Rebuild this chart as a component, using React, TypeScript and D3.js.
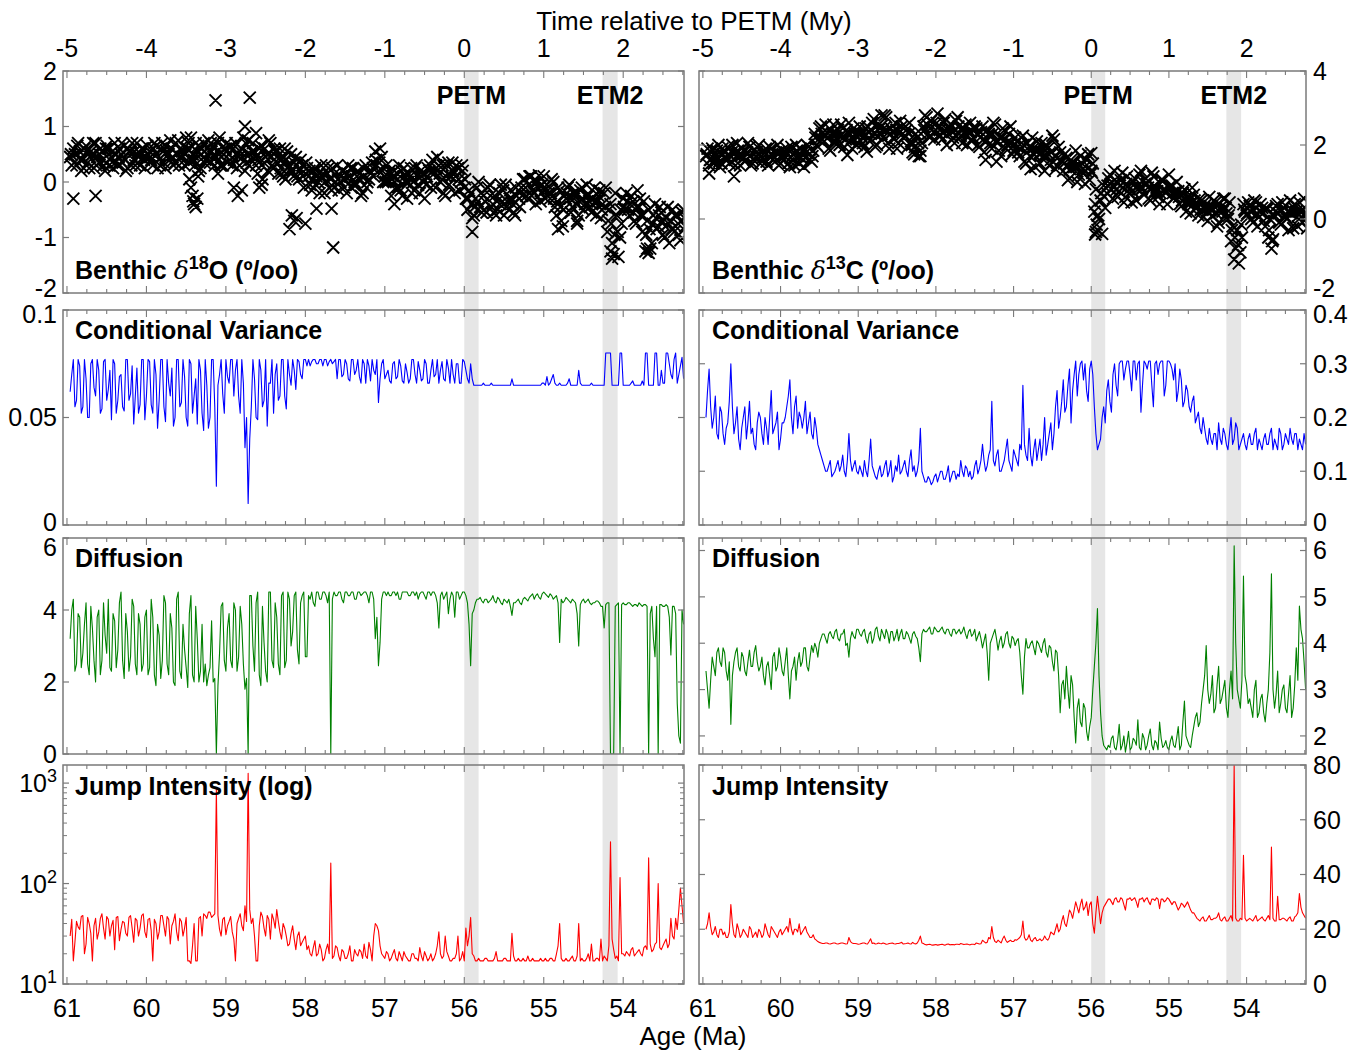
import React from "react";
import * as d3 from "d3";

// ---------- sampling grid (Age, Ma) ----------
const AGE0 = 60.96;
const STEP = 0.04;

// ---------- Benthic d18O (three interleaved sample sets + outliers) ----------
const d18O_A = [
  0.45,0.6,0.3,0.55,0.4,0.65,0.25,0.5,0.7,0.35,0.55,0.2,0.6,0.45,0.7,0.3,0.5,0.65,0.25,0.55,0.4,0.7,0.3,0.6,0.45,
  0.55,0.3,0.65,0.4,0.7,0.25,0.5,0.6,0.35,0.75,0.45,0.3,0.6,0.8,0.4,0.55,0.25,0.7,0.5,0.35,0.65,0.45,0.8,0.3,0.6,
  0.5,0.3,0.7,0.45,0.6,0.2,0.75,0.4,0.55,0.15,0.65,0.35,0.5,0.7,0.25,0.45,0.6,0.1,0.4,0.3,0.2,0.45,0.05,0.3,0.15,
  0.1,-0.15,0.25,0.0,0.3,-0.2,0.15,0.05,-0.1,0.3,0.0,0.2,-0.2,0.1,0.25,-0.05,0.15,-0.2,0.3,0.05,0.35,0.55,0.2,0.45,0.1,
  0.0,-0.25,0.2,0.05,-0.15,0.25,-0.3,0.1,0.0,0.3,-0.2,0.15,-0.05,0.2,0.4,-0.1,0.3,0.05,-0.25,0.35,0.1,-0.2,0.25,0.0,-0.1,
  -0.5,-0.2,-0.6,-0.1,-0.45,-0.25,-0.55,-0.05,-0.4,-0.6,-0.2,-0.35,-0.05,-0.5,-0.3,-0.6,-0.15,-0.1,0.05,-0.3,0.1,-0.2,0.0,-0.35,0.1,
  -0.05,-0.3,0.0,-0.6,-0.15,-0.8,-0.3,-0.05,-0.45,-0.2,-0.6,-0.1,-0.4,-0.25,-0.55,-0.1,-0.35,-0.65,-0.2,-0.9,-0.4,-1.3,-0.6,-1.0,-0.3,
  -0.2,-0.6,-0.35,-0.75,-0.45,-0.9,-1.25,-0.5,-1.1,-0.4,-0.8,-0.55,-1.0,-0.45,-0.7,-0.9,-0.6,-1.05,-0.5,
];
const d18O_B = [
  0.3,0.5,0.7,0.2,0.6,0.35,0.55,0.25,0.45,0.6,0.3,0.65,0.4,0.25,0.5,0.6,0.35,0.2,0.55,0.7,0.3,0.45,0.6,0.25,0.5,
  0.4,0.7,0.25,0.6,0.35,0.55,0.75,0.3,0.5,0.45,0.65,0.8,0.35,0.5,0.7,0.2,0.6,0.4,0.75,0.55,0.3,0.7,0.45,0.6,0.35,
  0.65,0.4,0.25,0.55,0.8,0.35,0.5,0.7,0.3,0.6,0.05,0.45,0.75,0.3,0.55,0.15,0.4,0.6,0.25,0.5,0.35,0.1,0.4,-0.1,0.25,
  -0.05,0.2,0.1,-0.2,0.15,0.3,-0.1,0.25,0.0,-0.15,0.2,0.05,0.3,-0.1,0.0,0.2,-0.25,0.1,0.0,0.15,0.1,0.3,0.6,0.0,0.3,
  0.2,0.1,-0.1,0.3,-0.25,0.0,0.15,-0.2,0.25,-0.05,0.1,-0.3,0.25,-0.1,0.15,0.45,0.0,-0.2,0.3,0.1,0.2,0.3,-0.15,0.2,-0.3,
  -0.15,-0.65,-0.3,0.0,-0.55,-0.35,-0.1,-0.45,-0.25,-0.5,-0.05,-0.6,-0.35,-0.15,-0.55,-0.25,-0.45,0.05,-0.25,0.1,-0.15,-0.4,0.12,-0.05,-0.3,
  -0.2,0.05,-0.45,-0.1,-0.7,-0.25,-0.1,-0.55,-0.3,-0.7,-0.15,-0.5,-0.05,-0.45,-0.3,-0.6,-0.15,-0.4,-0.1,-0.5,-1.1,-0.2,-1.35,-0.75,-0.5,
  -0.5,-0.25,-0.7,-0.15,-0.6,-0.35,-0.7,-1.2,-0.6,-0.85,-0.45,-0.95,-0.65,-1.1,-0.5,-0.8,-0.95,-0.55,-0.8,
];
const d18O_C = [
  0.5,0.35,0.65,0.4,0.25,0.55,0.45,0.7,0.3,0.5,0.4,0.6,0.3,0.55,0.35,0.45,0.7,0.4,0.6,0.3,0.55,0.35,0.5,0.4,0.65,
  0.45,0.6,0.5,0.3,0.55,0.65,0.4,0.45,0.7,0.3,0.55,0.5,0.7,0.4,0.3,0.65,0.5,0.35,0.6,0.7,0.45,0.55,0.3,0.5,0.7,
  0.4,0.6,0.5,0.3,0.45,0.7,0.3,0.55,0.45,0.4,0.3,0.6,0.2,0.45,0.6,0.35,0.25,0.45,0.55,0.2,0.1,0.3,0.2,0.1,0.35,
  0.2,0.05,-0.05,0.15,0.1,0.0,0.25,-0.15,0.15,0.05,0.1,-0.1,0.15,0.25,-0.05,0.1,0.05,0.25,-0.1,0.2,0.25,0.4,0.35,0.2,0.0,
  0.15,0.05,0.1,-0.1,0.2,0.1,0.0,0.25,-0.15,0.1,0.2,0.0,0.1,0.3,0.2,0.25,0.15,0.3,0.1,-0.05,0.35,0.1,0.05,0.3,0.05,
  -0.3,-0.4,-0.45,-0.35,-0.2,-0.5,-0.3,-0.25,-0.55,-0.35,-0.4,-0.15,-0.45,-0.3,-0.4,-0.1,-0.3,-0.25,-0.1,-0.05,-0.25,0.0,-0.1,-0.2,-0.15,
  -0.15,-0.2,-0.3,-0.35,-0.45,-0.5,-0.2,-0.3,-0.2,-0.4,-0.35,-0.3,-0.25,-0.35,-0.4,-0.35,-0.25,-0.5,-0.45,-0.7,-0.75,-0.95,-0.9,-0.5,-0.45,
  -0.35,-0.4,-0.55,-0.45,-0.3,-0.6,-0.95,-0.85,-0.75,-0.65,-0.6,-0.7,-0.8,-0.75,-0.85,-0.6,-0.75,-0.7,-0.65,
];
const d18O_outAge = [60.92,60.64,59.46,59.44,59.42,59.4,59.38,59.36,59.41,59.35,59.13,59.1,58.9,58.85,58.8,58.76,58.7,58.62,58.58,58.55,58.3,58.25,58.2,58.17,58.14,58.11,58.0,57.86,57.67,57.65,56.88,55.9,54.82,54.58,54.16,54.14,53.7,53.68];
const d18O_outVal = [-0.3,-0.25,0.05,-0.1,-0.25,-0.4,-0.45,-0.3,-0.35,0.1,1.47,0.15,-0.1,-0.25,-0.15,1.0,1.52,0.88,-0.1,-0.05,0.15,0.05,-0.85,-0.6,-0.7,-0.65,-0.75,-0.48,-0.48,-1.18,-0.4,-0.9,-0.85,-0.75,-1.25,-1.38,-1.2,-1.28];

// ---------- Benthic d13C ----------
const d13C_A = [
  1.7,1.45,1.9,1.6,2.0,1.5,1.8,1.95,1.55,1.75,2.05,1.45,1.85,1.6,1.95,1.5,1.7,2.0,1.55,1.8,1.45,1.9,1.65,2.0,1.5,
  1.6,1.9,1.4,1.75,2.0,1.5,1.85,1.65,1.95,1.55,2.3,1.95,2.5,2.1,2.35,1.85,2.55,2.2,2.0,2.45,2.15,2.6,1.9,2.3,2.05,
  2.3,1.95,2.5,2.15,2.7,2.0,2.45,2.2,2.75,1.9,2.35,2.6,2.05,2.5,2.25,1.95,2.1,1.75,2.2,1.85,2.5,2.75,2.2,2.6,2.4,
  2.5,2.15,2.7,2.3,2.55,2.05,2.75,2.25,2.45,2.0,2.6,2.2,2.45,1.95,2.5,1.6,2.3,1.9,2.55,2.1,1.7,2.4,2.0,2.5,1.85,
  2.1,1.7,2.25,1.5,1.95,2.2,1.4,1.85,2.05,1.3,1.9,1.6,2.15,1.45,1.8,1.3,1.65,1.1,1.55,1.85,1.2,1.5,0.95,1.75,1.3,
  0.2,-0.3,0.5,0.9,0.7,1.2,0.55,1.0,0.75,1.25,0.6,0.9,0.45,1.1,0.8,1.3,0.65,0.95,0.5,1.15,0.85,0.4,1.05,0.7,1.2,
  0.9,0.6,0.75,0.35,0.8,0.45,0.15,0.65,0.3,0.55,0.05,0.4,0.6,0.1,0.45,-0.1,0.35,0.55,0.0,-0.6,-1.1,-0.3,-0.9,0.4,0.1,
  0.35,-0.1,0.45,0.05,0.3,-0.2,-0.5,-0.8,0.1,0.4,-0.15,0.3,0.0,0.5,-0.25,0.2,0.45,-0.1,0.15,
];
const d13C_B = [
  1.9,1.6,1.5,1.85,1.4,1.75,1.6,1.5,2.0,1.45,1.7,1.9,1.55,2.05,1.45,1.85,1.95,1.5,1.75,1.55,1.95,1.6,1.8,1.45,1.85,
  1.8,1.5,1.95,1.45,1.7,1.9,1.4,2.0,1.6,1.85,2.0,2.45,2.15,2.55,1.9,2.3,2.05,2.4,2.55,1.95,2.35,2.1,2.45,2.0,2.5,
  2.05,2.45,2.2,2.6,1.95,2.55,2.3,2.8,2.05,2.45,2.15,1.9,2.65,2.2,2.4,2.6,1.8,2.3,1.7,2.05,2.8,2.3,2.65,2.15,2.85,
  2.25,2.6,2.0,2.45,2.2,2.65,2.3,2.05,2.55,2.35,2.1,2.5,2.0,2.35,1.8,2.4,2.05,2.6,1.55,2.2,2.45,1.9,2.3,1.75,2.2,
  1.8,2.2,1.55,2.05,1.35,1.75,2.1,1.5,1.7,2.0,1.45,2.25,1.35,1.95,1.55,1.75,1.05,1.6,1.4,1.0,1.7,1.25,1.6,1.05,1.5,
  0.8,0.0,-0.4,0.3,1.1,0.8,1.3,0.6,1.05,0.45,1.15,0.7,1.0,0.5,1.2,0.85,1.1,0.55,1.25,0.75,0.6,1.05,0.8,0.4,0.9,
  0.55,1.0,0.4,0.7,0.2,0.6,0.85,0.3,0.1,0.5,0.35,-0.05,0.25,0.5,-0.2,0.3,0.55,0.15,0.45,-0.2,-0.8,-1.2,-0.5,0.2,0.45,
  0.0,0.5,-0.2,0.4,-0.05,0.25,0.0,-0.55,0.35,-0.1,0.45,0.05,-0.3,0.25,0.4,-0.2,0.05,0.55,-0.25,
];
const d13C_C = [
  1.75,1.6,1.85,1.7,1.55,1.9,1.65,1.75,1.8,1.6,1.85,1.7,1.65,1.8,1.7,1.6,1.8,1.75,1.65,1.9,1.7,1.75,1.55,1.8,1.65,
  1.7,1.75,1.65,1.6,1.85,1.7,1.6,1.8,1.75,1.7,2.2,2.15,2.3,2.25,2.2,2.4,2.1,2.3,2.25,2.2,2.4,2.3,2.15,2.25,2.3,
  2.2,2.25,2.35,2.4,2.3,2.25,2.5,2.45,2.4,2.3,2.2,2.4,2.35,2.3,2.5,2.3,2.0,1.95,2.05,2.3,2.4,2.55,2.45,2.35,2.6,
  2.4,2.35,2.45,2.5,2.35,2.4,2.5,2.45,2.3,2.25,2.35,2.45,2.3,2.2,2.15,2.1,2.25,2.3,2.1,1.85,2.2,2.15,2.1,2.05,2.0,
  1.95,1.9,2.0,1.8,1.7,1.9,1.85,1.75,1.8,1.7,1.75,1.8,1.7,1.65,1.6,1.5,1.45,1.35,1.5,1.4,1.45,1.35,1.3,1.4,1.25,
  0.4,0.1,0.7,0.6,0.9,0.95,0.85,0.8,0.9,0.85,0.95,0.8,0.75,0.85,0.9,0.8,0.95,0.85,0.8,0.9,0.75,0.7,0.8,0.75,0.85,
  0.7,0.75,0.6,0.5,0.55,0.4,0.45,0.5,0.35,0.25,0.3,0.2,0.35,0.25,0.15,0.2,0.2,0.3,0.1,-0.3,-0.5,-0.7,-0.15,0.25,0.15,
  0.2,0.25,0.1,0.2,0.15,0.3,-0.3,-0.6,0.2,0.15,0.25,0.1,0.2,0.15,0.3,0.05,0.2,0.25,0.1,
];
const d13C_outAge = [60.92,60.6,59.14,58.89,58.7,58.2,56.0,55.95,55.94,55.93,55.92];
const d13C_outVal = [1.23,1.15,1.73,1.82,2.8,1.7,1.78,-0.42,-0.35,-0.15,0.1];

// ---------- Conditional variance (values on grid, and at half-steps) ----------
const cvO = [
  0.062,0.077,0.058,0.074,0.055,0.068,0.05,0.077,0.06,0.072,0.054,0.077,0.063,0.049,0.075,0.058,0.07,0.053,0.077,0.061,0.047,0.073,0.056,0.077,0.06,
  0.076,0.052,0.07,0.058,0.077,0.048,0.066,0.073,0.05,0.077,0.057,0.069,0.046,0.075,0.06,0.047,0.072,0.044,0.065,0.05,0.077,0.018,0.07,0.061,0.077,
  0.066,0.077,0.072,0.06,0.077,0.036,0.01,0.055,0.068,0.049,0.072,0.058,0.046,0.066,0.052,0.075,0.06,0.077,0.054,0.07,0.077,0.063,0.076,0.068,0.077,
  0.077,0.076,0.077,0.075,0.077,0.077,0.074,0.077,0.076,0.068,0.077,0.07,0.075,0.067,0.077,0.072,0.069,0.077,0.066,0.074,0.077,0.07,0.057,0.075,0.068,
  0.072,0.066,0.076,0.069,0.074,0.066,0.071,0.068,0.077,0.066,0.072,0.068,0.075,0.066,0.077,0.07,0.066,0.076,0.067,0.073,0.077,0.066,0.075,0.066,0.076,
  0.068,0.075,0.065,0.065,0.065,0.066,0.065,0.065,0.065,0.065,0.065,0.065,0.065,0.065,0.068,0.065,0.065,0.065,0.065,0.065,0.065,0.065,0.065,0.065,0.066,
  0.069,0.066,0.07,0.065,0.066,0.065,0.065,0.068,0.065,0.065,0.072,0.065,0.065,0.065,0.066,0.065,0.065,0.065,0.065,0.08,0.08,0.065,0.065,0.08,0.065,
  0.065,0.065,0.067,0.065,0.065,0.067,0.08,0.065,0.065,0.08,0.065,0.072,0.066,0.08,0.07,0.077,0.066,0.074,0.068,
];
const cvOmid = [
  0.07,0.055,0.077,0.052,0.077,0.05,0.075,0.064,0.077,0.052,0.076,0.058,0.072,0.077,0.052,0.069,0.055,0.077,0.058,0.074,0.06,0.052,0.077,0.049,0.077,
  0.056,0.077,0.045,0.077,0.055,0.077,0.06,0.046,0.077,0.055,0.077,0.05,0.077,0.052,0.068,0.077,0.052,0.077,0.045,0.077,0.055,0.065,0.077,0.052,0.069,
  0.077,0.06,0.077,0.052,0.066,0.05,0.04,0.077,0.05,0.077,0.055,0.077,0.066,0.077,0.07,0.058,0.077,0.06,0.077,0.065,0.072,0.077,0.07,0.077,0.074,
  0.074,0.077,0.075,0.077,0.074,0.077,0.076,0.075,0.077,0.077,0.069,0.077,0.068,0.077,0.07,0.077,0.066,0.075,0.077,0.067,0.072,0.077,0.068,0.077,0.07,
  0.067,0.075,0.068,0.077,0.067,0.075,0.066,0.077,0.07,0.076,0.067,0.077,0.066,0.072,0.069,0.077,0.072,0.068,0.077,0.066,0.07,0.075,0.066,0.077,0.072,
  0.066,0.068,0.065,0.065,0.065,0.065,0.065,0.066,0.065,0.065,0.065,0.065,0.065,0.065,0.065,0.065,0.065,0.065,0.065,0.065,0.065,0.065,0.065,0.066,0.065,
  0.065,0.068,0.066,0.065,0.065,0.065,0.066,0.065,0.065,0.065,0.066,0.065,0.065,0.065,0.065,0.065,0.065,0.065,0.08,0.08,0.065,0.065,0.065,0.08,0.065,
  0.065,0.066,0.065,0.065,0.065,0.065,0.08,0.065,0.065,0.08,0.065,0.066,0.08,0.075,0.068,0.08,0.07,0.078,0.072,
];
const cvC = [
  0.2,0.29,0.18,0.24,0.16,0.21,0.15,0.19,0.3,0.17,0.22,0.14,0.2,0.16,0.23,0.18,0.14,0.21,0.17,0.2,0.15,0.25,0.18,0.21,0.16,
  0.19,0.22,0.27,0.17,0.24,0.21,0.18,0.23,0.19,0.17,0.2,0.15,0.13,0.11,0.1,0.12,0.095,0.11,0.1,0.13,0.09,0.17,0.1,0.12,0.095,
  0.1,0.12,0.09,0.16,0.1,0.085,0.11,0.095,0.12,0.1,0.08,0.11,0.13,0.1,0.12,0.09,0.14,0.11,0.1,0.18,0.09,0.08,0.085,0.08,0.095,
  0.09,0.1,0.085,0.11,0.09,0.1,0.095,0.12,0.09,0.105,0.1,0.09,0.12,0.105,0.15,0.1,0.13,0.23,0.11,0.14,0.1,0.12,0.16,0.11,0.14,
  0.12,0.15,0.26,0.13,0.18,0.11,0.16,0.14,0.12,0.2,0.15,0.19,0.17,0.25,0.2,0.27,0.22,0.29,0.25,0.305,0.28,0.305,0.3,0.23,0.305,
  0.22,0.14,0.16,0.22,0.25,0.23,0.28,0.26,0.3,0.305,0.29,0.305,0.25,0.305,0.3,0.21,0.305,0.29,0.305,0.22,0.305,0.3,0.305,0.26,0.305,
  0.29,0.3,0.25,0.27,0.23,0.25,0.21,0.24,0.2,0.18,0.2,0.16,0.18,0.15,0.17,0.19,0.15,0.17,0.14,0.2,0.16,0.18,0.15,0.17,0.14,
  0.17,0.15,0.18,0.16,0.14,0.17,0.15,0.18,0.16,0.14,0.17,0.15,0.16,0.18,0.15,0.17,0.16,0.14,0.15,
];
const cvCmid = [
  0.25,0.22,0.2,0.17,0.22,0.17,0.18,0.23,0.22,0.19,0.16,0.18,0.22,0.19,0.17,0.15,0.19,0.2,0.15,0.18,0.2,0.17,0.19,0.14,0.19,
  0.2,0.24,0.2,0.22,0.18,0.2,0.2,0.17,0.21,0.16,0.18,0.14,0.12,0.1,0.11,0.09,0.1,0.12,0.11,0.1,0.12,0.12,0.11,0.1,0.11,
  0.09,0.1,0.12,0.11,0.09,0.1,0.09,0.11,0.09,0.12,0.09,0.1,0.095,0.11,0.1,0.12,0.1,0.09,0.12,0.1,0.08,0.09,0.075,0.09,0.08,
  0.1,0.085,0.095,0.08,0.1,0.085,0.09,0.1,0.11,0.09,0.085,0.11,0.095,0.12,0.12,0.11,0.14,0.12,0.13,0.1,0.11,0.14,0.12,0.1,0.13,
  0.11,0.14,0.15,0.12,0.13,0.14,0.12,0.16,0.15,0.13,0.17,0.14,0.22,0.18,0.23,0.21,0.26,0.19,0.28,0.24,0.3,0.27,0.25,0.29,0.28,
  0.17,0.15,0.2,0.19,0.27,0.21,0.3,0.24,0.305,0.27,0.305,0.28,0.305,0.27,0.305,0.26,0.3,0.305,0.26,0.3,0.28,0.305,0.24,0.305,0.3,
  0.27,0.23,0.29,0.22,0.26,0.22,0.23,0.19,0.21,0.17,0.18,0.15,0.16,0.17,0.14,0.16,0.18,0.15,0.17,0.15,0.19,0.14,0.16,0.15,0.16,
  0.15,0.17,0.14,0.15,0.16,0.15,0.17,0.14,0.15,0.18,0.14,0.17,0.15,0.16,0.17,0.14,0.15,0.17,0.14,
];

// ---------- Diffusion ----------
const diffO = [
  3.2,4.3,2.5,3.8,2.8,4.2,2.2,3.5,2.0,4.0,2.6,3.3,4.3,2.3,3.7,2.9,4.5,2.1,3.4,2.7,4.1,2.2,3.6,2.5,4.0,
  2.4,3.8,1.9,3.3,2.6,4.2,2.2,3.5,1.9,4.5,2.1,2.9,1.85,4.4,2.0,3.2,2.3,2.0,1.9,2.4,2.0,0.0,2.8,4.2,2.3,
  3.9,2.4,4.0,2.7,3.6,1.8,0.0,4.4,2.3,4.5,1.9,3.1,2.0,4.5,2.4,3.8,2.2,4.5,2.6,4.3,3.4,4.5,2.5,4.4,2.7,
  4.4,4.5,4.1,4.5,4.3,4.5,4.2,0.0,4.5,4.4,4.5,4.2,4.5,4.4,4.5,4.3,4.5,4.45,4.5,4.2,4.5,3.2,2.45,4.3,4.5,
  4.5,4.4,4.5,4.5,4.3,4.5,4.5,4.4,4.5,4.5,4.45,4.5,4.3,4.5,4.5,4.4,3.5,4.5,4.4,3.9,4.5,3.8,4.5,4.4,4.5,
  4.2,2.45,4.0,4.3,4.35,4.2,4.3,4.25,4.4,4.2,4.3,4.15,4.25,4.3,3.85,4.2,4.3,4.15,4.35,4.25,4.4,4.3,4.45,4.3,4.5,
  4.4,4.45,4.3,4.4,3.1,4.2,4.35,4.25,4.3,4.2,3.0,4.25,4.2,4.3,4.15,4.2,4.25,4.1,3.5,4.2,0.0,0.0,4.15,0.0,4.2,
  4.15,4.2,4.1,4.15,4.2,4.1,4.15,0.0,4.1,2.7,0.0,4.15,4.1,4.1,2.75,4.1,1.4,0.3,3.6,
];
const diffOmid = [
  4.0,2.3,3.9,2.4,3.6,2.5,4.1,2.6,3.8,2.2,4.2,2.8,2.4,3.9,2.4,4.2,2.6,3.9,2.3,4.3,2.5,3.9,2.3,3.8,2.2,
  4.3,2.2,3.6,2.1,4.4,2.5,3.9,2.0,4.3,2.3,3.6,2.4,3.9,2.2,4.1,2.0,3.6,2.5,2.2,3.7,2.1,1.9,4.1,2.6,3.5,
  2.6,4.2,2.3,4.1,2.5,2.1,4.4,3.0,4.2,2.2,4.1,2.3,4.5,2.6,4.2,2.5,4.4,2.4,4.5,3.0,4.4,2.9,4.2,4.5,2.7,
  4.3,4.2,4.5,4.3,4.5,4.4,4.5,4.3,4.4,4.5,4.3,4.5,4.4,4.5,4.3,4.5,4.4,4.5,4.4,4.5,4.3,3.8,3.1,4.5,4.4,
  4.4,4.5,4.4,4.3,4.5,4.5,4.4,4.5,4.4,4.3,4.5,4.4,4.5,4.4,4.5,4.2,4.4,4.3,4.5,4.3,4.4,4.5,4.3,4.5,4.4,
  3.6,3.9,4.2,4.3,4.25,4.3,4.2,4.3,4.25,4.35,4.2,4.3,4.2,4.1,4.2,4.25,4.2,4.3,4.3,4.35,4.45,4.4,4.35,4.45,4.45,
  4.35,4.4,4.35,4.2,4.3,4.25,4.3,4.2,4.25,3.9,4.15,4.3,4.25,4.2,4.2,4.25,4.2,4.1,4.15,4.2,0.0,4.1,4.2,4.15,4.15,
  4.2,4.15,4.15,4.1,4.15,4.15,4.1,3.9,3.2,4.1,4.15,4.1,4.15,3.8,4.1,3.9,0.5,4.0,4.1,
];
const diffC = [
  3.4,2.6,3.7,3.3,3.9,3.5,3.8,3.2,2.25,3.6,3.9,3.4,3.7,3.3,3.85,3.5,3.95,3.4,3.7,3.1,3.6,3.0,3.8,3.5,3.7,
  3.3,3.9,2.8,3.5,3.2,3.8,3.6,3.9,3.4,3.95,4.0,3.7,4.1,4.2,4.0,4.25,4.1,4.3,4.05,4.2,3.95,3.7,4.25,4.1,4.3,
  4.15,4.3,4.0,4.25,4.1,4.35,4.05,4.2,4.3,4.0,4.25,4.15,4.05,4.3,4.1,4.2,4.0,4.25,4.1,3.6,4.3,4.25,4.35,4.2,4.3,
  4.25,4.35,4.2,4.3,4.15,4.3,4.25,4.2,4.35,4.1,4.3,4.2,4.05,4.25,3.9,4.2,3.2,4.1,4.3,3.85,4.15,4.0,4.25,3.9,4.1,
  4.05,3.8,2.9,4.1,3.9,4.05,3.75,4.0,3.8,4.1,3.7,3.9,3.4,3.8,2.5,3.2,3.5,2.6,3.1,1.85,2.8,2.2,2.6,1.9,2.4,
  3.5,4.75,2.5,1.8,1.7,1.75,2.0,1.7,2.25,1.8,1.65,2.1,1.75,1.9,2.35,1.7,1.95,1.8,2.15,1.7,1.85,2.3,1.75,1.9,1.7,
  2.0,1.75,2.2,1.8,2.75,1.9,1.75,2.2,2.5,2.3,3.0,3.95,2.7,3.3,2.6,3.5,2.8,3.2,2.4,3.4,6.1,3.0,2.6,5.45,3.1,
  2.8,2.4,3.2,2.5,2.9,2.3,3.0,5.5,2.6,3.4,2.7,3.1,2.5,3.3,2.6,3.9,4.8,4.1,3.0,
];
const diffCmid = [
  3.0,3.2,3.5,3.8,3.6,3.9,3.4,3.6,3.3,3.8,3.5,3.8,3.4,3.6,3.5,3.8,3.6,3.5,3.3,3.5,3.3,3.7,3.4,3.9,3.4,
  3.6,3.3,3.4,3.7,3.6,3.5,3.9,3.5,3.7,3.8,3.9,4.0,4.2,4.1,4.2,4.15,4.25,4.1,4.2,4.3,4.0,4.1,4.15,4.3,4.2,
  4.25,4.1,4.2,4.0,4.3,4.15,4.3,4.1,4.2,4.25,4.05,4.3,4.2,4.1,4.25,4.1,4.2,4.15,3.9,4.2,4.25,4.3,4.2,4.35,4.25,
  4.3,4.25,4.3,4.2,4.3,4.2,4.3,4.25,4.2,4.25,4.15,4.3,4.15,4.1,4.05,3.8,4.0,4.2,4.1,4.05,3.9,4.2,4.0,4.15,3.95,
  4.1,3.3,3.7,3.9,4.0,3.9,4.05,3.9,4.0,3.8,3.95,3.6,3.85,3.3,3.1,2.8,3.0,3.3,2.4,2.6,2.3,2.7,2.1,2.2,3.0,
  4.0,3.3,2.0,1.75,1.8,1.95,1.75,1.9,1.7,2.0,1.85,1.7,1.95,1.8,1.75,2.05,1.7,2.0,1.8,1.9,1.7,1.95,1.8,1.75,1.9,
  1.8,1.95,1.7,2.3,2.0,1.8,2.0,2.4,2.2,2.7,3.3,3.0,2.9,2.5,3.1,2.7,3.0,2.6,3.0,2.8,4.0,2.8,3.2,3.3,2.7,
  2.6,3.0,2.4,2.8,2.5,2.7,3.8,3.0,2.9,2.5,3.0,2.6,2.9,2.4,3.1,3.2,4.3,3.6,3.1,
];

// ---------- Jump intensity ----------
const jumpO = [
  30,17,42,35,48,25,40,17,45,33,50,28,44,38,22,47,35,41,30,48,26,43,36,50,29,
  45,17,40,33,48,30,44,38,50,27,42,36,17,16,40,17,47,50,45,52,48,880,35,44,31,
  42,33,17,45,38,60,1250,40,30,17,52,36,48,28,44,55,33,40,30,25,38,22,33,26,30,
  24,19,27,20,22,18,25,160,19,23,17,21,18,24,17,20,22,18,19,26,17,40,34,20,18,
  20,18,22,17,19,21,18,17,20,18,23,17,19,18,17,20,33,18,30,19,17,18,30,18,17,
  24,46,19,17,17,17,18,17,17,21,17,17,18,17,32,17,18,17,17,19,17,17,17,18,17,
  17,18,17,20,40,17,18,17,19,17,40,18,17,20,25,17,18,28,19,17,260,22,19,115,20,
  21,19,23,20,22,19,24,180,21,25,100,22,26,23,45,28,35,90,40,
];
const jumpOmid = [
  44,26,37,47,20,46,32,38,28,45,36,47,30,43,46,27,42,32,46,36,45,30,48,33,44,
  34,44,28,48,38,47,25,42,33,45,30,46,17,24,17,45,30,48,52,46,50,48,30,46,38,
  47,28,40,50,34,42,55,45,17,38,47,30,44,50,36,42,28,36,24,32,28,30,24,28,22,
  20,23,19,25,17,22,20,18,24,19,22,18,20,17,22,19,21,25,18,22,30,38,24,19,21,
  17,20,18,21,17,19,17,20,18,17,19,21,17,20,18,24,20,19,21,17,18,20,17,21,36,
  30,20,17,18,17,18,17,17,18,17,17,18,17,17,19,17,17,18,17,17,18,17,17,17,18,
  17,18,17,24,18,17,17,18,17,19,17,17,18,17,17,18,17,17,18,24,28,18,17,20,19,
  20,22,19,21,20,23,22,25,22,26,23,24,28,25,30,45,55,60,50,
];
const jumpC = [
  20,26,18,21,17,20,19,17,29,18,22,17,20,18,21,17,19,20,17,22,18,21,19,17,20,
  19,21,24,18,20,22,19,21,18,17,16.5,15.5,15,14.8,15,14.6,15,14.7,14.8,15,14.6,17,15,14.8,14.5,
  14.8,15,14.6,16.5,15,14.7,14.8,15,14.5,14.8,15,14.6,14.8,15.2,14.7,15,14.6,14.8,15,17.5,14.8,14.3,14.5,14.2,14.4,
  14.3,14.5,14.2,14.6,14.4,14.3,14.5,14.8,14.4,14.6,14.3,14.5,15,14.6,16,15,17,21,15.5,16,15,17.5,15.2,16,15.5,
  16,17,23,16,18,15.5,17,16,15.8,17.5,16,19,18,22,20,25,21,27,24,30,26,31,28,25,30,
  18.6,32,22,28,30,31,29,31.5,30,31,27,31,30.5,31.5,28,31,30,31.5,29,31,31.5,27.5,31,30.5,31,
  29,30,27,29.5,28,30,27,26,24,23,24.5,23,25,23.5,24,26,23,24.5,23,25,80,23,24,47,23,
  24,23,25,23.5,24.5,23,25,50,23,32,23.5,24,23,24.5,23,25,33,26,24,
];
const jumpCmid = [
  22,21,19,18,20,18,17,19,22,17,20,18,19,17,20,18,17,19,18,20,17,20,18,19,18,
  20,19,20,20,19,18,20,19,17,18,16,15.2,14.8,15,14.7,14.8,15,14.6,15,14.8,14.7,15.5,14.8,14.7,14.6,
  15,14.7,15.5,14.8,14.6,15,14.7,14.8,14.6,14.9,14.7,14.8,15,14.6,14.8,14.7,15.2,14.6,16,15,14.4,14.4,14.3,14.3,14.2,
  14.4,14.3,14.5,14.3,14.4,14.5,14.4,14.6,14.5,14.4,14.5,14.4,14.8,14.7,15.5,15.2,16.5,17,15.2,15.5,16.5,16,15.6,15.5,16.2,
  16.5,18,17,16.5,16,16.5,15.8,16.5,16.2,16.5,17,18.5,20,19,23,22,24,26,27,28,29,27,30,29,22,
  26,27,26,29,31,30,31,30,31.5,29,31,31.5,31,30,31,31.5,31,30,31,30.5,31,31,30,31.5,30,
  30,28.5,28,29,29,28.5,26,25,23.5,24,23,24,23.5,24,24.5,23.5,24,23,24,23,24,23,23.5,24,23.5,
  23.5,24,23,24,23.5,24,23.5,24,23,23.5,24,23.5,24,23,24.5,26,28,25,24.5,
];

// ---------- axes / events ----------
const AGE_DOMAIN = [61.05, 53.235];
const ageTicks = [61, 60, 59, 58, 57, 56, 55, 54];
const timeTickLabels = ["-5", "-4", "-3", "-2", "-1", "0", "1", "2"];
const events = [
  { name: "PETM", start: 56.0, end: 55.82 },
  { name: "ETM2", start: 54.26, end: 54.07 },
];

const W = 1369, H = 1054;
const COLS = [{ x0: 63, x1: 684 }, { x0: 699, x1: 1306 }];
const ROWS = [[71, 293], [310, 525], [538, 754], [765, 984]];
const FONT = "'Liberation Sans', Arial, Helvetica, sans-serif";
const FRAME = "#7a7a7a";

const ageA = (i: number) => AGE0 - STEP * i;
const ageB = (i: number) => AGE0 - STEP / 2 - STEP * i;
const ageC = (i: number) => AGE0 - STEP / 4 - STEP * i;

type PanelDef = {
  row: number; col: number; kind: "scatter" | "line";
  domain: number[]; log?: boolean; ticks: number[]; tickLabels: string[];
  color?: string; values?: number[]; mid?: number[];
  A?: number[]; B?: number[]; C?: number[]; outAge?: number[]; outVal?: number[];
};

const panels: PanelDef[] = [
  { row: 0, col: 0, kind: "scatter", domain: [-2, 2], ticks: [2, 1, 0, -1, -2], tickLabels: ["2", "1", "0", "-1", "-2"], A: d18O_A, B: d18O_B, C: d18O_C, outAge: d18O_outAge, outVal: d18O_outVal },
  { row: 0, col: 1, kind: "scatter", domain: [-2, 4], ticks: [4, 2, 0, -2], tickLabels: ["4", "2", "0", "-2"], A: d13C_A, B: d13C_B, C: d13C_C, outAge: d13C_outAge, outVal: d13C_outVal },
  { row: 1, col: 0, kind: "line", domain: [0, 0.1], ticks: [0.1, 0.05, 0], tickLabels: ["0.1", "0.05", "0"], color: "#0000ff", values: cvO, mid: cvOmid },
  { row: 1, col: 1, kind: "line", domain: [0, 0.4], ticks: [0.4, 0.3, 0.2, 0.1, 0], tickLabels: ["0.4", "0.3", "0.2", "0.1", "0"], color: "#0000ff", values: cvC, mid: cvCmid },
  { row: 2, col: 0, kind: "line", domain: [0, 6], ticks: [6, 4, 2, 0], tickLabels: ["6", "4", "2", "0"], color: "#008000", values: diffO, mid: diffOmid },
  { row: 2, col: 1, kind: "line", domain: [1.61, 6.27], ticks: [6, 5, 4, 3, 2], tickLabels: ["6", "5", "4", "3", "2"], color: "#008000", values: diffC, mid: diffCmid },
  { row: 3, col: 0, kind: "line", domain: [10, 1514], log: true, ticks: [1000, 100, 10], tickLabels: ["3", "2", "1"], color: "#ff0000", values: jumpO, mid: jumpOmid },
  { row: 3, col: 1, kind: "line", domain: [0, 80], ticks: [80, 60, 40, 20, 0], tickLabels: ["80", "60", "40", "20", "0"], color: "#ff0000", values: jumpC, mid: jumpCmid },
];

function Title({ x, y, row, col }: { x: number; y: number; row: number; col: number }) {
  const common = { x, y, fontSize: 25, fontWeight: "bold" as const, fill: "#000" };
  if (row === 0) {
    return (
      <text {...common}>
        Benthic <tspan fontStyle="italic" fontFamily="'DejaVu Serif', serif" fontWeight="normal">δ</tspan>
        <tspan dy={-10} fontSize={18}>{col === 0 ? "18" : "13"}</tspan>
        <tspan dy={10}>{col === 0 ? "O" : "C"} (º/oo)</tspan>
      </text>
    );
  }
  const names = [["Conditional Variance", "Conditional Variance"], ["Diffusion", "Diffusion"], ["Jump Intensity (log)", "Jump Intensity"]];
  return <text {...common}>{names[row - 1][col]}</text>;
}

export default function App() {
  const xScales = COLS.map((c) => d3.scaleLinear().domain(AGE_DOMAIN).range([c.x0, c.x1]));
  const minorAges = d3.range(61, 53.2, -0.25);

  return (
    <svg width={W} height={H} style={{ position: "absolute", left: 0, top: 0, background: "#fff" }} fontFamily={FONT}>
      <rect x={0} y={0} width={W} height={H} fill="#fff" />
      <defs>
        {panels.map((p, k) => {
          const c = COLS[p.col], r = ROWS[p.row];
          return (
            <clipPath id={`clip${k}`} key={k}>
              <rect x={c.x0} y={r[0]} width={c.x1 - c.x0} height={r[1] - r[0]} />
            </clipPath>
          );
        })}
      </defs>

      {/* event bands */}
      {COLS.map((c, ci) =>
        events.map((e) => {
          const xs = xScales[ci];
          return (
            <rect key={`${ci}-${e.name}`} x={xs(e.start)} width={xs(e.end) - xs(e.start)} y={ROWS[0][0]} height={ROWS[3][1] - ROWS[0][0]} fill="#e6e6e6" />
          );
        })
      )}

      {panels.map((p, k) => {
        const c = COLS[p.col], r = ROWS[p.row];
        const xs = xScales[p.col];
        const ys: any = p.log
          ? d3.scaleLog().domain(p.domain).range([r[1], r[0]])
          : d3.scaleLinear().domain(p.domain).range([r[1], r[0]]);
        let mark: React.ReactNode = null;
        if (p.kind === "line" && p.values) {
          const pts: [number, number][] = [];
          p.values.forEach((v, i) => {
            pts.push([ageA(i), v]);
            if (p.mid && i < p.values!.length - 1 && p.mid[i] !== undefined) pts.push([ageB(i), p.mid[i]]);
          });
          const line = d3.line<[number, number]>().x((d) => xs(d[0])).y((d) => ys(d[1]));
          mark = <path d={line(pts) || ""} fill="none" stroke={p.color} strokeWidth={1.1} strokeLinejoin="round" clipPath={`url(#clip${k})`} />;
        } else if (p.kind === "scatter") {
          const s = 6;
          const pts: [number, number][] = [];
          p.A!.forEach((v, i) => pts.push([ageA(i), v]));
          p.B!.forEach((v, i) => pts.push([ageB(i), v]));
          p.C!.forEach((v, i) => pts.push([ageC(i), v]));
          p.outAge!.forEach((a, i) => pts.push([a, p.outVal![i]]));
          const d = pts
            .map(([a, v]) => {
              const x = xs(a), y = ys(v);
              return `M${x - s},${y - s}L${x + s},${y + s}M${x - s},${y + s}L${x + s},${y - s}`;
            })
            .join("");
          mark = <path d={d} fill="none" stroke="#000" strokeWidth={1.9} clipPath={`url(#clip${k})`} />;
        }

        const yTicks = p.ticks.map((t, i) => {
          const y = ys(t);
          return (
            <g key={`yt${i}`}>
              <line x1={c.x0} x2={c.x0 + 6} y1={y} y2={y} stroke={FRAME} strokeWidth={1.2} />
              <line x1={c.x1} x2={c.x1 - 6} y1={y} y2={y} stroke={FRAME} strokeWidth={1.2} />
            </g>
          );
        });
        let minorY: React.ReactNode = null;
        if (p.log) {
          const mins: number[] = [];
          [10, 100, 1000].forEach((dec) => d3.range(2, 10).forEach((m) => { if (dec * m <= p.domain[1]) mins.push(dec * m); }));
          minorY = mins.map((t, i) => (
            <g key={`ym${i}`}>
              <line x1={c.x0} x2={c.x0 + 4} y1={ys(t)} y2={ys(t)} stroke={FRAME} strokeWidth={1} />
              <line x1={c.x1} x2={c.x1 - 4} y1={ys(t)} y2={ys(t)} stroke={FRAME} strokeWidth={1} />
            </g>
          ));
        }
        const xTicks = minorAges.map((a, i) => {
          const x = xs(a);
          const major = Math.abs(a - Math.round(a)) < 1e-6;
          const len = major ? 7 : 4;
          return (
            <g key={`xt${i}`}>
              <line x1={x} x2={x} y1={r[0]} y2={r[0] + len} stroke={FRAME} strokeWidth={1.1} />
              <line x1={x} x2={x} y1={r[1]} y2={r[1] - len} stroke={FRAME} strokeWidth={1.1} />
            </g>
          );
        });

        const labels = p.ticks.map((t, i) => {
          let y = ys(t);
          if (p.row === 2 && p.col === 0 && t === 6) y += 9;
          if (p.row === 0 && i === p.ticks.length - 1) y -= 5;
          if (p.row === 1 && i === 0) y += 4;
          if (p.row === 1 && i === p.ticks.length - 1) y -= 3;
          if (p.log) {
            return (
              <g key={`yl${i}`}>
                <text x={c.x0 - 16} y={y + 9} fontSize={25} textAnchor="end">10</text>
                <text x={c.x0 - 16} y={y - 1} fontSize={18} textAnchor="start">{p.tickLabels[i]}</text>
              </g>
            );
          }
          return p.col === 0 ? (
            <text key={`yl${i}`} x={c.x0 - 6} y={y} dy="0.35em" fontSize={25} textAnchor="end">{p.tickLabels[i]}</text>
          ) : (
            <text key={`yl${i}`} x={c.x1 + 7} y={y} dy="0.35em" fontSize={25} textAnchor="start">{p.tickLabels[i]}</text>
          );
        });

        return (
          <g key={k}>
            {mark}
            {yTicks}
            {minorY}
            {xTicks}
            <rect x={c.x0} y={r[0]} width={c.x1 - c.x0} height={r[1] - r[0]} fill="none" stroke={FRAME} strokeWidth={1.5} />
            {labels}
            <Title x={p.col === 0 ? 75 : 712} y={[279, 339, 567, 795][p.row]} row={p.row} col={p.col} />
          </g>
        );
      })}

      {COLS.map((c, ci) =>
        events.map((e) => (
          <text key={`lab${ci}${e.name}`} x={(xScales[ci](e.start) + xScales[ci](e.end)) / 2} y={104} fontSize={25} fontWeight="bold" textAnchor="middle">
            {e.name}
          </text>
        ))
      )}

      {COLS.map((c, ci) =>
        ageTicks.map((a, i) => (
          <g key={`ax${ci}${i}`}>
            <text x={xScales[ci](a)} y={57} fontSize={25} textAnchor="middle">{timeTickLabels[i]}</text>
            <text x={xScales[ci](a)} y={1017} fontSize={25} textAnchor="middle">{a}</text>
          </g>
        ))
      )}
      <text x={694} y={30} fontSize={26} textAnchor="middle">Time relative to PETM (My)</text>
      <text x={693} y={1045} fontSize={26} textAnchor="middle">Age (Ma)</text>
    </svg>
  );
}
